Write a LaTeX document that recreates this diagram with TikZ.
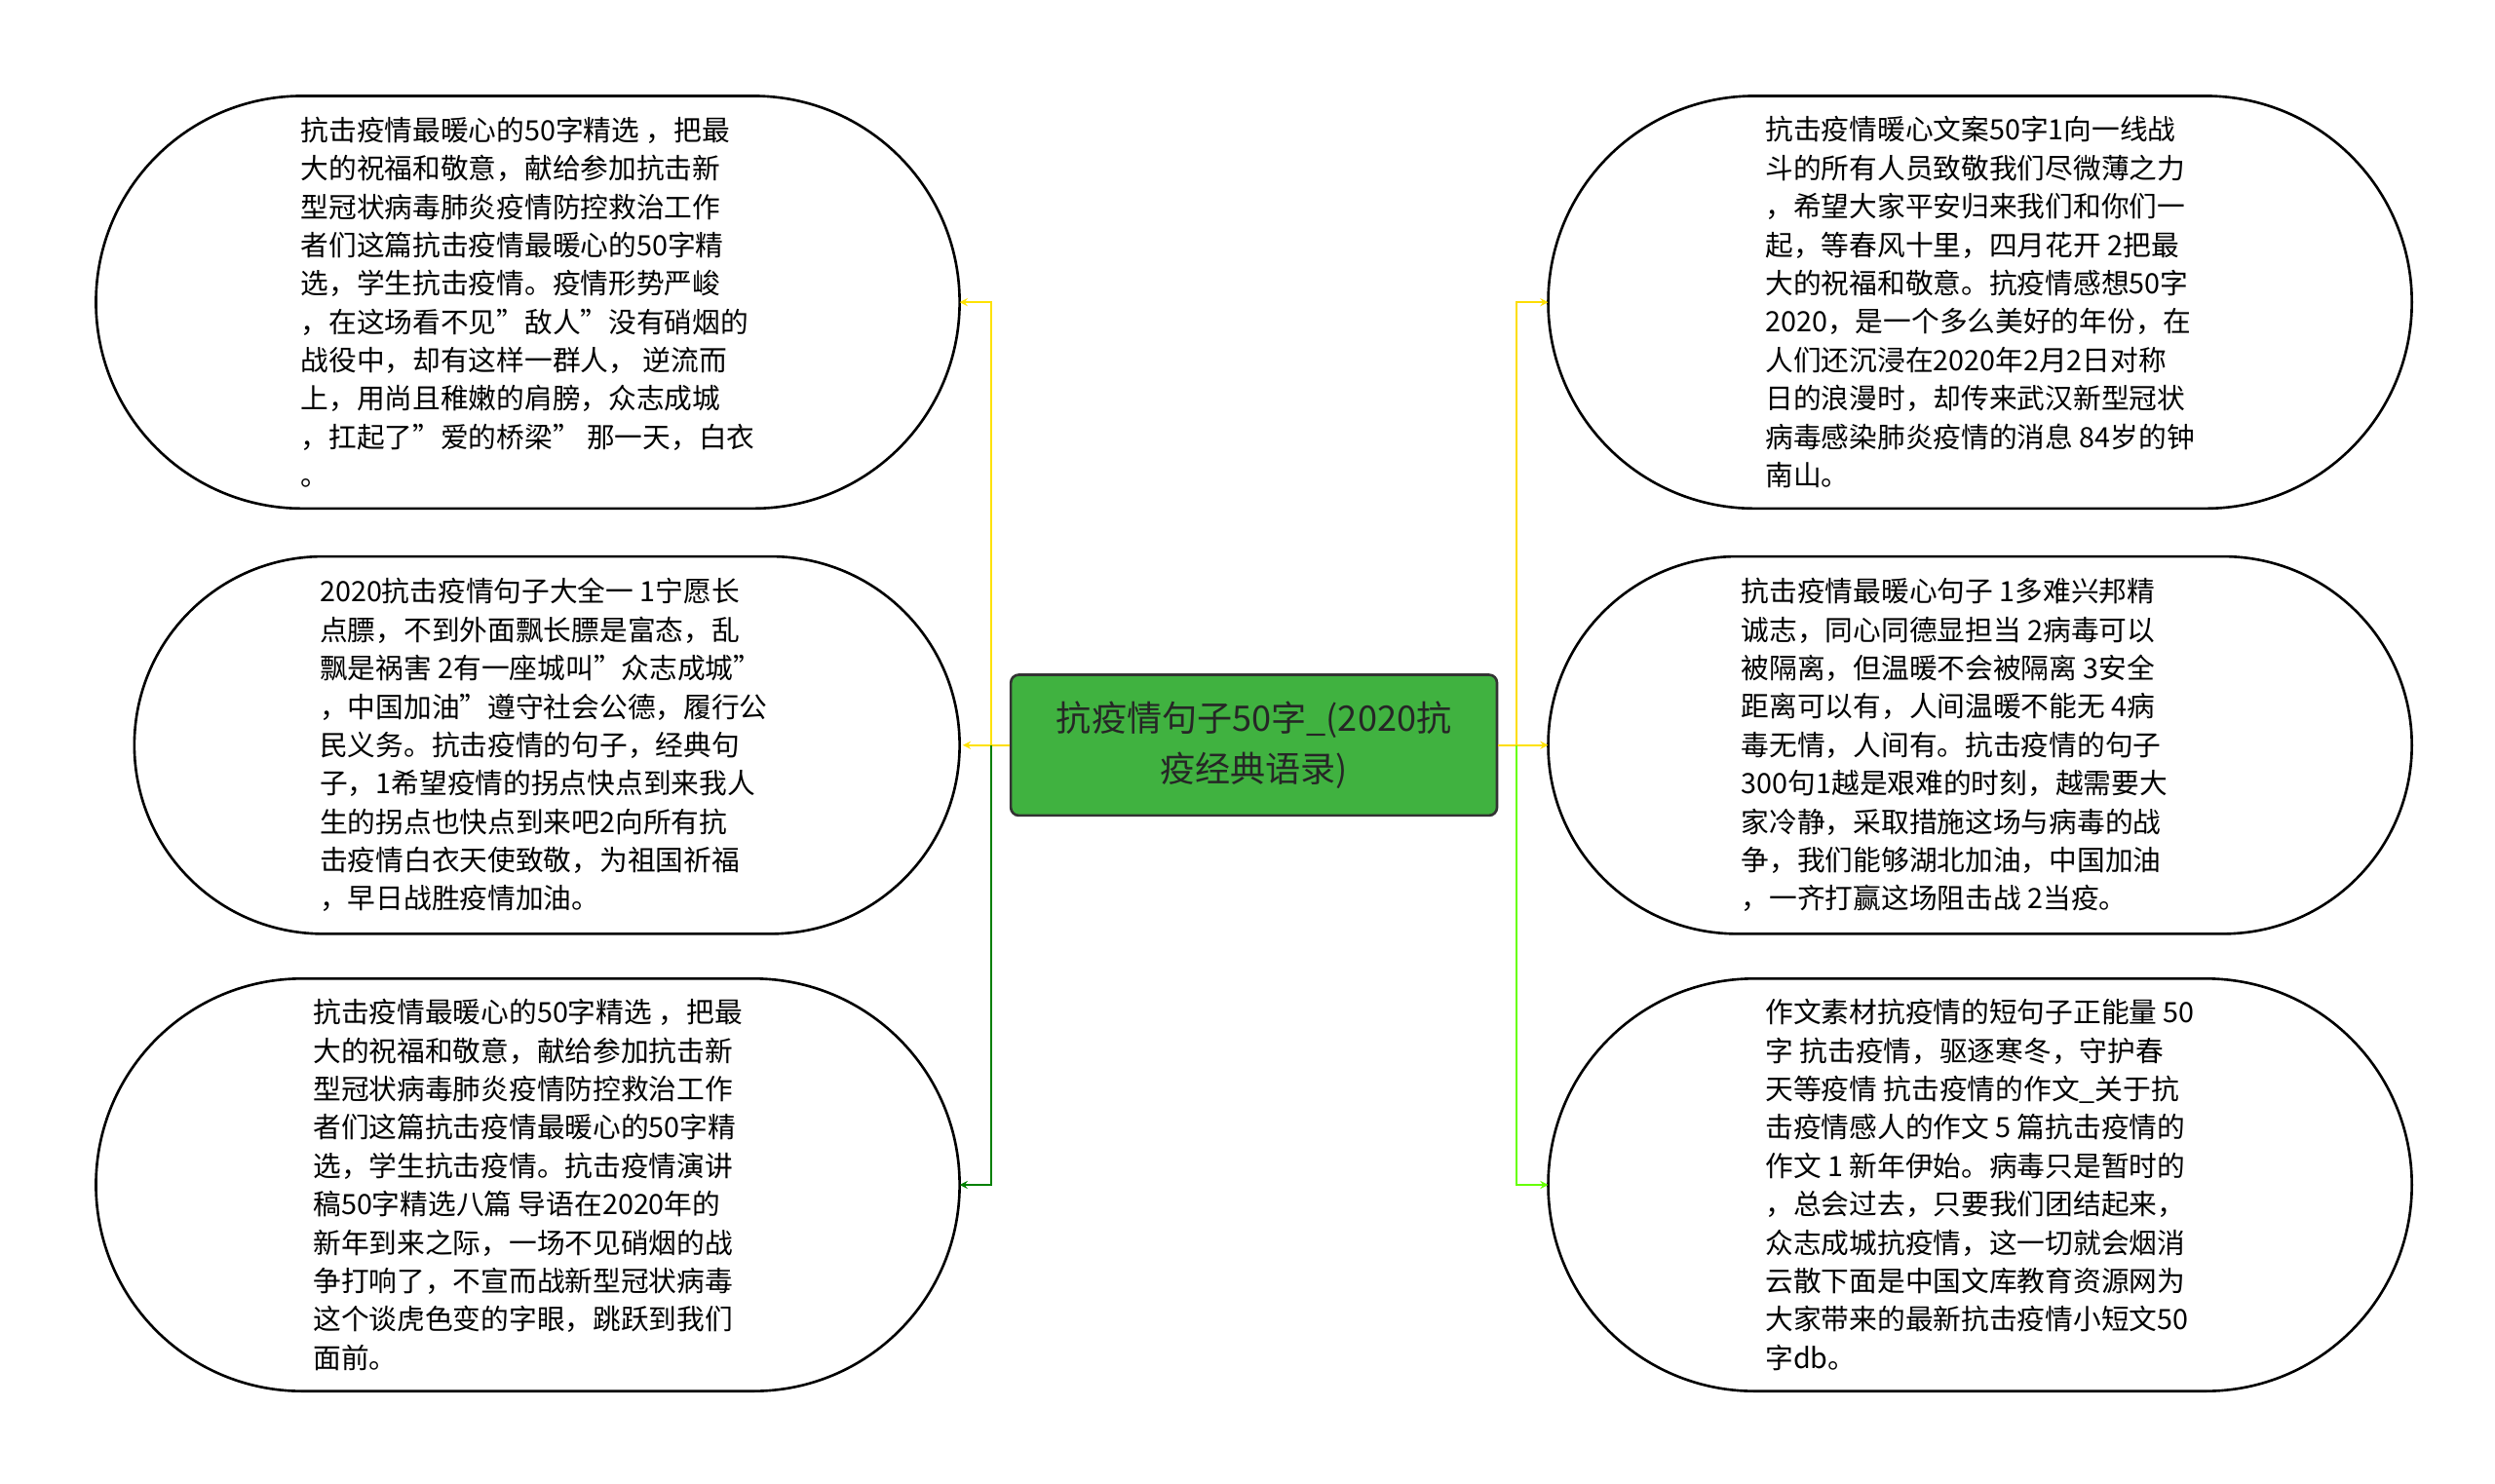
\documentclass[tikz,border=0pt]{standalone}
\usepackage{fontspec}
\setmainfont{Noto Sans CJK SC}
\newcommand{\qq}{\char34{}}
\begin{document}
\begin{tikzpicture}[x=1pt,y=-1pt,
  leaf/.style={align=left,font=\fontsize{17.5}{24}\selectfont,inner sep=0pt},
  arr/.style={line width=1.2pt,->,>=stealth}]
\useasboundingbox (0,0) rectangle (1560,927.5);
\fill[white] (0,0) rectangle (1560,927.5);
\foreach \x/\y/\w/\h in {330/189/540/258, 342/466/516/236, 330/741/540/258, 1238/189/540/258, 1238/466/540/236, 1238/741/540/258}
  \draw[line width=1.6pt,fill=white,rounded corners=\h/2*1pt] (\x-\w/2,\y-\h/2) rectangle (\x+\w/2,\y+\h/2);
\node[leaf] (L1) at (330,189) {抗击疫情最暖心的50字精选 ，把最\\大的祝福和敬意，献给参加抗击新\\型冠状病毒肺炎疫情防控救治工作\\者们这篇抗击疫情最暖心的50字精\\选，学生抗击疫情。疫情形势严峻\\，在这场看不见\qq{}敌人\qq{}没有硝烟的\\战役中，却有这样一群人， 逆流而\\上，用尚且稚嫩的肩膀，众志成城\\，扛起了\qq{}爱的桥梁\qq{} 那一天，白衣\\。};
\node[leaf] (L2) at (340,466) {2020抗击疫情句子大全一 1宁愿长\\点膘，不到外面飘长膘是富态，乱\\飘是祸害 2有一座城叫\qq{}众志成城\qq{}\\，中国加油\qq{}遵守社会公德，履行公\\民义务。抗击疫情的句子，经典句\\子，1希望疫情的拐点快点到来我人\\生的拐点也快点到来吧2向所有抗\\击疫情白衣天使致敬，为祖国祈福\\，早日战胜疫情加油。};
\node[leaf] (L3) at (330,741) {抗击疫情最暖心的50字精选 ，把最\\大的祝福和敬意，献给参加抗击新\\型冠状病毒肺炎疫情防控救治工作\\者们这篇抗击疫情最暖心的50字精\\选，学生抗击疫情。抗击疫情演讲\\稿50字精选八篇 导语在2020年的\\新年到来之际，一场不见硝烟的战\\争打响了，不宣而战新型冠状病毒\\这个谈虎色变的字眼，跳跃到我们\\面前。};
\node[leaf] (R1) at (1238,189) {抗击疫情暖心文案50字1向一线战\\斗的所有人员致敬我们尽微薄之力\\，希望大家平安归来我们和你们一\\起，等春风十里，四月花开 2把最\\大的祝福和敬意。抗疫情感想50字\\2020，是一个多么美好的年份，在\\人们还沉浸在2020年2月2日对称\\日的浪漫时，却传来武汉新型冠状\\病毒感染肺炎疫情的消息 84岁的钟\\南山。};
\node[leaf] (R2) at (1222,466) {抗击疫情最暖心句子 1多难兴邦精\\诚志，同心同德显担当 2病毒可以\\被隔离，但温暖不会被隔离 3安全\\距离可以有，人间温暖不能无 4病\\毒无情，人间有。抗击疫情的句子\\300句1越是艰难的时刻，越需要大\\家冷静，采取措施这场与病毒的战\\争，我们能够湖北加油，中国加油\\，一齐打赢这场阻击战 2当疫。};
\node[leaf] (R3) at (1238,741) {作文素材抗疫情的短句子正能量 50\\ 字 抗击疫情，驱逐寒冬，守护春\\天等疫情 抗击疫情的作文\_关于抗\\击疫情感人的作文 5 篇抗击疫情的\\作文 1 新年伊始。病毒只是暂时的\\，总会过去，只要我们团结起来，\\众志成城抗疫情，这一切就会烟消\\云散下面是中国文库教育资源网为\\大家带来的最新抗击疫情小短文50\\字db。};
\node[draw=black!80,line width=1.6pt,fill=green!60!black!75,rounded corners=5pt,minimum width=304pt,minimum height=88pt,align=center,font=\fontsize{22}{32}\selectfont,text=black!85] (C) at (784,466) {抗疫情句子50字\_(2020抗\\疫经典语录)};
\coordinate (lj) at (620,466);
\coordinate (rj) at (948,466);
\draw[line width=1.2pt,yellow!80!orange] (C.west) -- (lj);
\draw[line width=1.2pt,yellow!80!orange] (C.east) -- (rj);
\draw[arr,yellow!85!orange] (lj) |- (600,189);
\draw[arr,yellow!85!orange] (lj) -- (602,466);
\draw[arr,green!50!black] (lj) |- (600,741);
\draw[arr,yellow!80!orange] (rj) |- (968,189);
\draw[arr,yellow!85!orange] (rj) -- (968,466);
\draw[arr,green!60!yellow] (rj) |- (968,741);
\end{tikzpicture}
\end{document}
